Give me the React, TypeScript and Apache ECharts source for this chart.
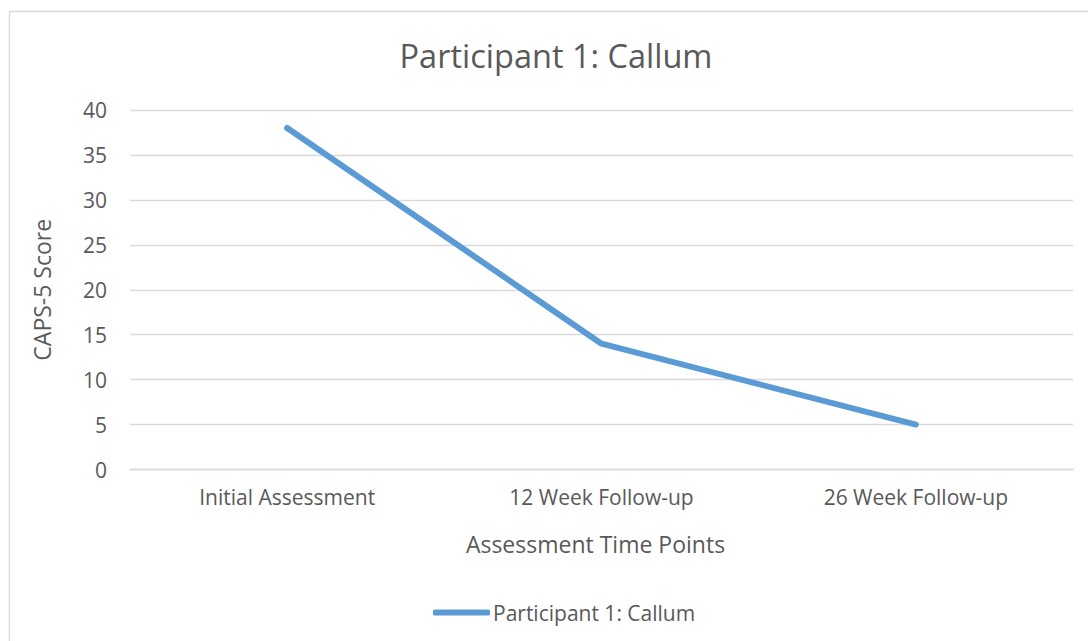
import React, { useEffect, useRef } from "react";
import * as echarts from "echarts";

const categories = ["Initial Assessment", "12 Week Follow-up", "26 Week Follow-up"];
const seriesName = "Participant 1: Callum";
const scores = [38, 14, 5];
const titleText = "Participant 1: Callum";
const yAxisName = "CAPS-5 Score";
const xAxisName = "Assessment Time Points";

const FONT = "'Open Sans', 'Noto Sans', sans-serif";
const TEXT = "#595959";
const GRID = "#d9d9d9";
const LINE = "#5B9BD5";

export default function App() {
  const ref = useRef<HTMLDivElement>(null);
  useEffect(() => {
    if (!ref.current) return;
    const chart = echarts.init(ref.current, null, { renderer: "svg" });
    chart.setOption({
      animation: false,
      backgroundColor: "#ffffff",
      textStyle: { fontFamily: FONT },
      title: {
        text: titleText,
        left: 551,
        textAlign: "center",
        top: 28,
        textStyle: { fontFamily: FONT, fontSize: 32.5, fontWeight: "normal", color: TEXT, lineHeight: 44 },
      },
      graphic: [
        {
          type: "rect",
          silent: true,
          shape: { x: 9.5, y: 11.5, width: 1100, height: 700 },
          style: { fill: "none", stroke: GRID, lineWidth: 1.3 },
        },
      ],
      legend: {
        data: [{ name: seriesName, icon: "roundRect" }],
        left: 428,
        top: 597,
        itemWidth: 57,
        itemHeight: 6,
        itemGap: 10,
        itemStyle: { color: LINE, borderWidth: 0 },
        textStyle: { fontFamily: FONT, fontSize: 21, color: TEXT, padding: [0, 0, 0, -2] },
      },
      grid: { left: 130, right: 15, top: 110, bottom: 171.5, containLabel: false },
      xAxis: {
        type: "category",
        data: categories,
        boundaryGap: true,
        name: xAxisName,
        nameLocation: "middle",
        nameGap: 63,
        nameTextStyle: { fontFamily: FONT, fontSize: 23, color: TEXT, padding: [0, 12, 0, 0] },
        axisLine: { show: true, lineStyle: { color: GRID, width: 1.3 } },
        axisTick: { show: false },
        axisLabel: { fontFamily: FONT, fontSize: 21, color: TEXT, margin: 17 },
        splitLine: { show: false },
      },
      yAxis: {
        type: "value",
        min: 0,
        max: 40,
        interval: 5,
        name: yAxisName,
        nameLocation: "middle",
        nameGap: 77,
        nameTextStyle: { fontFamily: FONT, fontSize: 23, color: TEXT },
        axisLine: { show: false },
        axisTick: { show: false },
        axisLabel: { fontFamily: FONT, fontSize: 21, color: TEXT, margin: 23 },
        splitLine: { show: true, lineStyle: { color: GRID, width: 1.3 } },
      },
      series: [
        {
          name: seriesName,
          type: "line",
          data: scores,
          symbol: "none",
          showSymbol: false,
          lineStyle: { color: LINE, width: 6, cap: "round", join: "round" },
          itemStyle: { color: LINE },
        },
      ],
    });
    return () => chart.dispose();
  }, []);
  return (
    <div style={{ position: "absolute", left: 0, top: 0, width: 1088, height: 641, background: "#fff" }}>
      <div ref={ref} style={{ width: 1088, height: 641 }} />
    </div>
  );
}
